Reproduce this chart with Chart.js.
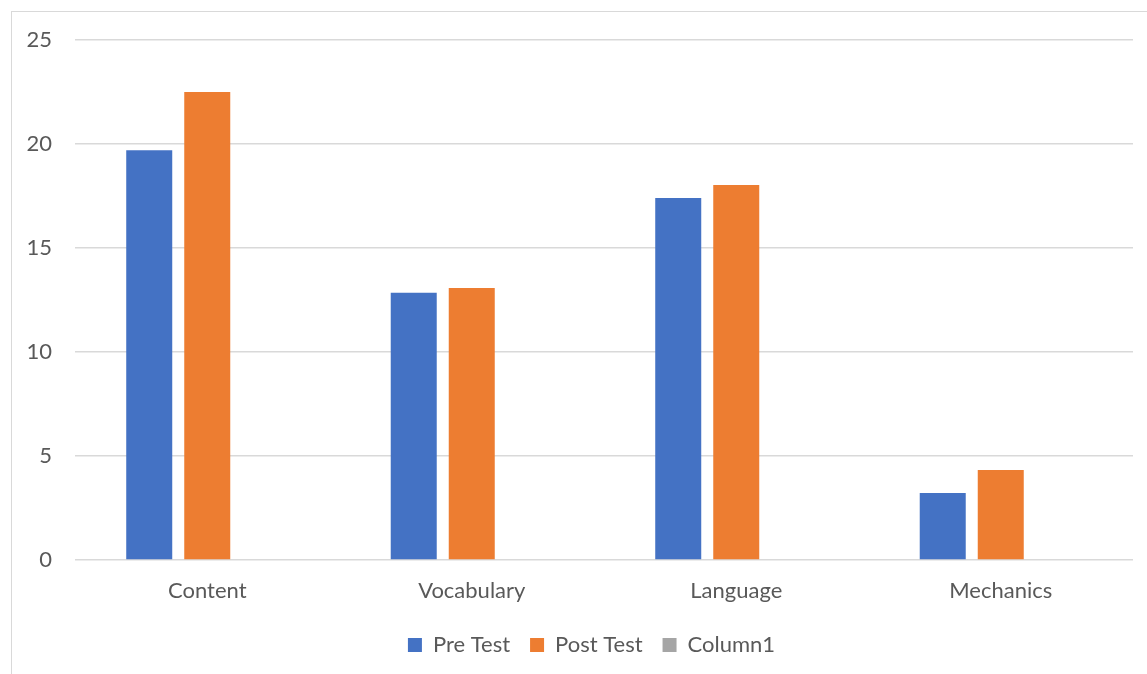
<!DOCTYPE html>
<html lang="en">
<head>
<meta charset="UTF-8">
<title>Pre Test vs Post Test</title>
<style>
    body { margin: 0; background: #ffffff; overflow: hidden; }
    /* chart frame, open to the right and bottom like the original */
    .frame {
        position: absolute; left: 11px; top: 11px;
        width: 1150px; height: 700px;
        border: 1px solid #d9d9d9;
    }
    #chart { position: absolute; left: 0; top: 0; }
</style>
</head>
<body>
<div class="frame"></div>
<canvas id="chart" width="1147" height="674"></canvas>

<script src="https://cdn.jsdelivr.net/npm/chart.js"></script>
<script>
// data
const categories = ['Content', 'Vocabulary', 'Language', 'Mechanics'];
const preTest = [19.7, 12.85, 17.4, 3.22];
const postTest = [22.5, 13.08, 18.03, 4.33];
const column1 = [null, null, null, null];
const yTicks = [0, 5, 10, 15, 20, 25];

const textColor = '#595959';
const fontFamily = 'Lato, "Open Sans", sans-serif';

// nudge the legend a little to the right, as in the original
const legendShift = {
    id: 'legendShift',
    afterLayout(chart) {
        chart.legend.left += 25;
        chart.legend.right += 25;
    }
};

const ctx = document.getElementById('chart').getContext('2d');
new Chart(ctx, {
    type: 'bar',
    data: {
        labels: categories,
        datasets: [
            { label: 'Pre Test', data: preTest, backgroundColor: '#4472c4' },
            { label: 'Post Test', data: postTest, backgroundColor: '#ed7d31' },
            { label: 'Column1', data: column1, backgroundColor: '#a5a5a5' }
        ]
    },
    options: {
        responsive: false,
        animation: false,
        events: [],
        categoryPercentage: 0.658,
        barPercentage: 0.793,
        layout: { padding: { top: 40, right: 14, bottom: 8, left: 0 } },
        plugins: {
            tooltip: { enabled: false },
            legend: {
                position: 'bottom',
                labels: {
                    color: textColor,
                    font: { family: fontFamily, size: 22 },
                    boxWidth: 14,
                    boxHeight: 14,
                    padding: 20
                }
            }
        },
        scales: {
            x: {
                grid: { display: false },
                border: { display: false },
                ticks: { color: textColor, font: { family: fontFamily, size: 22 }, padding: 10 },
                afterFit: s => { s.height = 54; }
            },
            y: {
                min: yTicks[0],
                max: yTicks[yTicks.length - 1],
                afterBuildTicks: s => { s.ticks = yTicks.map(v => ({ value: v })); },
                grid: { color: '#d9d9d9', lineWidth: 1.5, drawTicks: false },
                border: { display: false },
                ticks: { color: textColor, font: { family: fontFamily, size: 22 }, padding: 23 },
                afterFit: s => { s.width = 75; }
            }
        }
    },
    plugins: [legendShift]
});
</script>
</body>
</html>
